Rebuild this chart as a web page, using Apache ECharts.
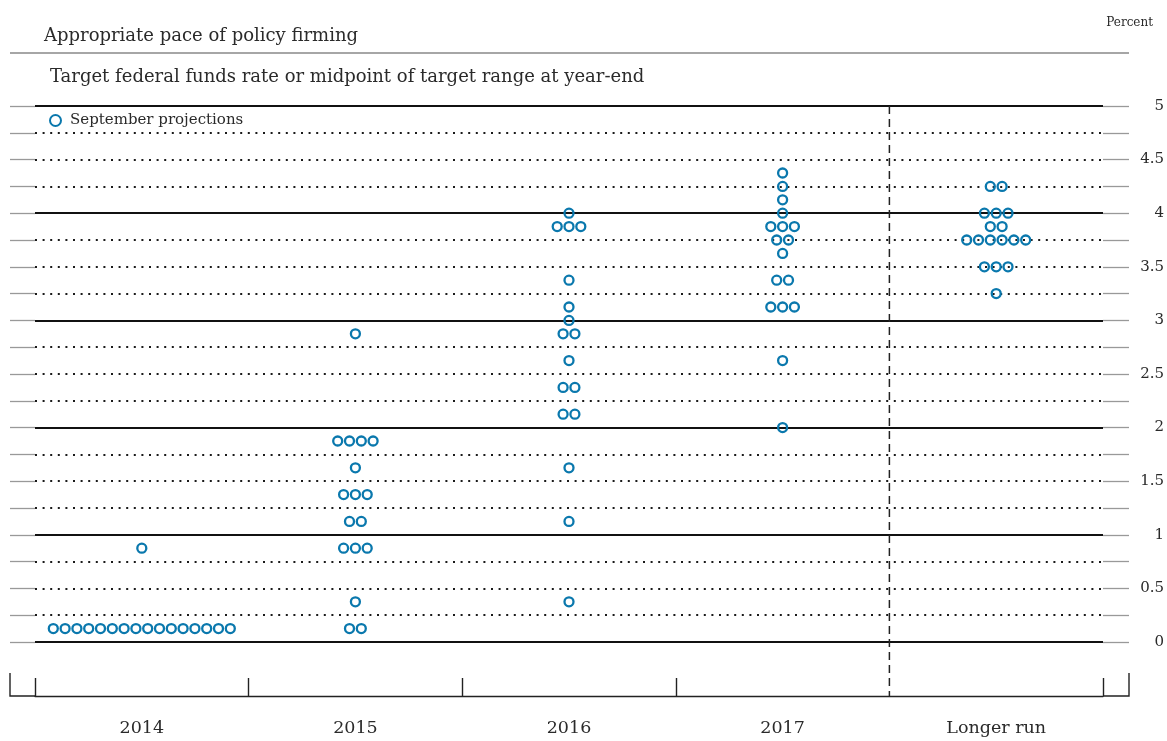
<!DOCTYPE html>
<html>
<head>
<meta charset="utf-8">
<script src="https://cdn.jsdelivr.net/npm/echarts@6/dist/echarts.min.js"></script>
<style>
  html, body { margin: 0; padding: 0; background: #fff; }
  #chart { width: 1167px; height: 741px; }
</style>
</head>
<body>
<div id="chart"></div>
<script>
// categories
var years = ['2014', '2015', '2016', '2017', 'Longer run'];

// rate levels and how many participants put a dot there, per year
var levels2014 = [0.125, 0.875];
var counts2014 = [16, 1];

var levels2015 = [0.125, 0.375, 0.875, 1.125, 1.375, 1.625, 1.875, 2.875];
var counts2015 = [2, 1, 3, 2, 3, 1, 4, 1];

var levels2016 = [0.375, 1.125, 1.625, 2.125, 2.375, 2.625, 2.875, 3.0, 3.125, 3.375, 3.875, 4.0];
var counts2016 = [1, 1, 1, 2, 2, 1, 2, 1, 1, 1, 3, 1];

var levels2017 = [2.0, 2.625, 3.125, 3.375, 3.625, 3.75, 3.875, 4.0, 4.125, 4.25, 4.375];
var counts2017 = [1, 1, 3, 2, 1, 2, 3, 1, 1, 1, 1];

var levelsLonger = [3.25, 3.5, 3.75, 3.875, 4.0, 4.25];
var countsLonger = [1, 3, 6, 2, 3, 2];

// y axis ticks
var yMin = 0, yMax = 5, yStep = 0.25;

var Page = {

    dot_gap: 11.8,   // px between neighbouring dots
    blue: '#0a78ad',
    ink: '#2a2a2a',
    font: '"DejaVu Serif", "Liberation Serif", serif',

    build_dots: function () {
        var that = this;
        var groups = [
            [levels2014, counts2014],
            [levels2015, counts2015],
            [levels2016, counts2016],
            [levels2017, counts2017],
            [levelsLonger, countsLonger]
        ];
        var out = [];
        for (var c = 0; c < groups.length; c++) {
            var lv = groups[c][0], ct = groups[c][1];
            for (var i = 0; i < lv.length; i++) {
                var n = ct[i];
                for (var j = 0; j < n; j++) {
                    out.push({
                        value: [c, lv[i]],
                        symbolOffset: [(j - (n - 1) / 2) * that.dot_gap, 0]
                    });
                }
            }
        }
        return out;
    },

    init: function () {
        var that = this;
        var chart = echarts.init(document.getElementById('chart'));

        var option = {
            animation: false,
            textStyle: { fontFamily: that.font, color: that.ink },
            title: [{
                text: 'Appropriate pace of policy firming',
                left: 39, top: 22,
                textStyle: { fontFamily: that.font, fontWeight: 'normal', fontSize: 18, color: that.ink }
            }, {
                text: 'Target federal funds rate or midpoint of target range at year-end',
                left: 45, top: 63,
                textStyle: { fontFamily: that.font, fontWeight: 'normal', fontSize: 18, color: that.ink }
            }, {
                text: 'Percent',
                right: 9, top: 12,
                textStyle: { fontFamily: that.font, fontWeight: 'normal', fontSize: 12, color: that.ink }
            }],
            legend: {
                left: 44, top: 108,
                itemWidth: 11, itemHeight: 11,
                data: ['September projections'],
                textStyle: { fontFamily: that.font, fontSize: 15, color: that.ink, padding: [0, 0, 0, 4] }
            },
            grid: { left: 35, right: 64, top: 106, bottom: 99 },
            xAxis: [{
                type: 'category',
                data: years,
                axisLine: { show: false },
                axisTick: { show: false },
                axisLabel: { show: false },
                splitLine: { show: false }
            }, {
                type: 'category',
                data: years,
                position: 'bottom',
                offset: 54,
                axisLine: { show: true, onZero: false, lineStyle: { color: '#222', width: 1.4 } },
                axisTick: {
                    show: true, inside: true, length: 18,
                    interval: function (i) { return i !== 4; },
                    lineStyle: { color: '#222', width: 1.4 }
                },
                axisLabel: { margin: 23, fontSize: 17.5, color: that.ink, fontFamily: that.font },
                splitLine: { show: false }
            }],
            yAxis: [{
                // quarter lines, labels on the right
                type: 'value', position: 'right',
                min: yMin, max: yMax, interval: yStep,
                axisLine: { show: false },
                axisTick: { show: true, length: 26, lineStyle: { color: '#999', width: 1.3 } },
                axisLabel: {
                    align: 'right', margin: 61, fontSize: 15, color: that.ink, fontFamily: that.font,
                    formatter: function (v) { return (v * 2) % 1 === 0 ? String(v) : ''; }
                },
                splitLine: { show: true, lineStyle: { color: '#1a1a1a', width: 2, type: [2, 5.6] } }
            }, {
                // short ticks on the left
                type: 'value', position: 'left',
                min: yMin, max: yMax, interval: yStep,
                axisLine: { show: false },
                axisTick: { show: true, length: 25, lineStyle: { color: '#999', width: 1.3 } },
                axisLabel: { show: false },
                splitLine: { show: false }
            }, {
                // solid lines at whole percents
                type: 'value', position: 'right',
                min: yMin, max: yMax, interval: 1,
                axisLine: { show: false },
                axisTick: { show: false },
                axisLabel: { show: false },
                splitLine: { show: true, lineStyle: { color: '#111', width: 2 } }
            }],
            series: [{
                name: 'September projections',
                type: 'scatter',
                xAxisIndex: 0,
                yAxisIndex: 0,
                symbol: 'circle',
                symbolSize: 9,
                itemStyle: { color: 'rgba(0,0,0,0)', borderColor: that.blue, borderWidth: 2.3, opacity: 1 },
                data: that.build_dots(),
                z: 5
            }]
        };

        chart.setOption(option);

        // frame pieces and the dashed divider, placed from the axes
        var xa = chart.convertToPixel({ xAxisIndex: 0 }, 3);
        var xb = chart.convertToPixel({ xAxisIndex: 0 }, 4);
        var xDiv = (xa + xb) / 2;
        var yTop = chart.convertToPixel({ yAxisIndex: 0 }, yMax);
        var yZero = chart.convertToPixel({ yAxisIndex: 0 }, yMin);
        var yBase = yZero + 54;
        var left = 35, right = 1167 - 64;

        chart.setOption({
            graphic: [{
                type: 'line',
                shape: { x1: 10, y1: 53, x2: 1129, y2: 53 },
                style: { stroke: '#888', lineWidth: 1.5 }
            }, {
                type: 'line',
                shape: { x1: xDiv, y1: yTop, x2: xDiv, y2: yBase },
                style: { stroke: '#222', lineWidth: 1.5, lineDash: [8, 5] }
            }, {
                type: 'polyline',
                shape: { points: [[10, yBase - 23], [10, yBase], [left, yBase]] },
                style: { stroke: '#222', lineWidth: 1.4, fill: null }
            }, {
                type: 'polyline',
                shape: { points: [[right, yBase], [1129, yBase], [1129, yBase - 23]] },
                style: { stroke: '#222', lineWidth: 1.4, fill: null }
            }]
        });
    }
};

Page.init();
</script>
</body>
</html>
